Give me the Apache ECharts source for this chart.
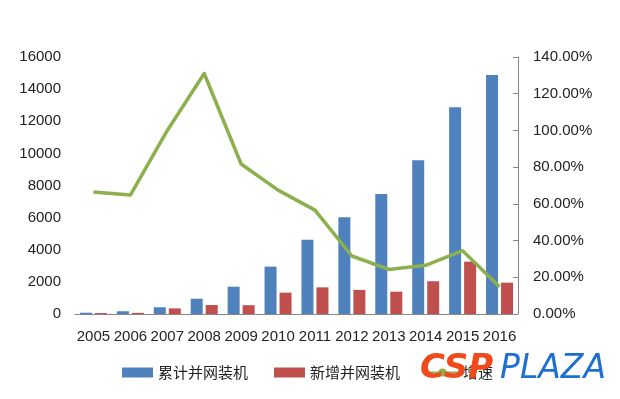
<!DOCTYPE html>
<html>
<head>
<meta charset="utf-8">
<script src="https://cdn.jsdelivr.net/npm/echarts@6/dist/echarts.min.js"></script>
<style>
  html, body { margin: 0; padding: 0; background: #fff; }
  #chart { width: 620px; height: 399px; }
</style>
</head>
<body>
<div id="chart"></div>
<script>
// 年份
const years = ['2005', '2006', '2007', '2008', '2009', '2010', '2011', '2012', '2013', '2014', '2015', '2016']
// 累计并网装机
const cumulative = [80, 170, 420, 950, 1700, 2950, 4630, 6020, 7470, 9570, 12870, 14880]
// 新增并网装机
const added = [60, 70, 350, 560, 550, 1330, 1660, 1500, 1390, 2040, 3260, 1950]
// 增速 (%)
const growth = [66.5, 64.8, 100, 131, 81.7, 67.5, 56.6, 31.6, 24.3, 26.5, 34.5, 14.9]

const labelFont = 'Liberation Sans, Arial, sans-serif'
const cjkFont = 'Noto Sans CJK SC, sans-serif'

const chart = echarts.init(document.getElementById('chart'))

const option = {
    animation: false,
    backgroundColor: '#fff',
    grid: {
        left: 75,
        right: 102,
        top: 57,
        bottom: 85
    },
    legend: {
        left: 117,
        top: 360,
        itemWidth: 31,
        itemHeight: 10,
        itemGap: 26,
        textStyle: {
            fontFamily: cjkFont,
            fontSize: 15,
            color: '#222'
        },
        data: [
            { name: '累计并网装机', icon: 'rect' },
            { name: '新增并网装机', icon: 'rect' },
            { name: '增速' }
        ]
    },
    xAxis: {
        type: 'category',
        data: years,
        axisLine: { lineStyle: { color: '#868686', width: 1 } },
        axisTick: { show: false },
        axisLabel: {
            interval: 0,
            margin: 15,
            fontFamily: labelFont,
            fontSize: 15,
            color: '#222'
        }
    },
    yAxis: [{
        type: 'value',
        min: 0,
        max: 16000,
        interval: 2000,
        axisLine: { show: false },
        axisTick: { show: false },
        splitLine: { show: false },
        axisLabel: {
            margin: 14,
            fontFamily: labelFont,
            fontSize: 15,
            color: '#222',
            formatter: function (v) { return String(v) }
        }
    }, {
        type: 'value',
        min: 0,
        max: 140,
        interval: 20,
        position: 'right',
        axisLine: { show: true, lineStyle: { color: '#868686', width: 1 } },
        axisTick: { show: true, inside: true, length: 5, lineStyle: { color: '#868686' } },
        splitLine: { show: false },
        axisLabel: {
            margin: 15,
            fontFamily: labelFont,
            fontSize: 15,
            color: '#222',
            formatter: function (v) { return v.toFixed(2) + '%' }
        }
    }],
    series: [{
        name: '累计并网装机',
        type: 'bar',
        data: cumulative,
        barWidth: 12,
        barGap: '25%',
        itemStyle: { color: '#4f81bd' }
    }, {
        name: '新增并网装机',
        type: 'bar',
        data: added,
        barWidth: 12,
        itemStyle: { color: '#c0504d' }
    }, {
        name: '增速',
        type: 'line',
        yAxisIndex: 1,
        data: growth,
        symbol: 'none',
        lineStyle: { color: '#8db04e', width: 3.5, join: 'round' },
        itemStyle: { color: '#8db04e' },
        z: 5
    }],
    // 水印
    graphic: [{
        type: 'text',
        left: 420,
        top: 352,
        z: 100,
        style: {
            text: 'CSP',
            fontFamily: 'DejaVu Sans, sans-serif',
            fontSize: 34,
            fontWeight: 'bold',
            fontStyle: 'italic',
            fill: '#f04a1c'
        }
    }, {
        type: 'text',
        left: 500,
        top: 353,
        z: 100,
        style: {
            text: 'PLAZA',
            fontFamily: 'DejaVu Sans, sans-serif',
            fontSize: 33,
            fontStyle: 'italic',
            fill: '#1e6fd0'
        }
    }]
}

chart.setOption(option)
</script>
</body>
</html>
